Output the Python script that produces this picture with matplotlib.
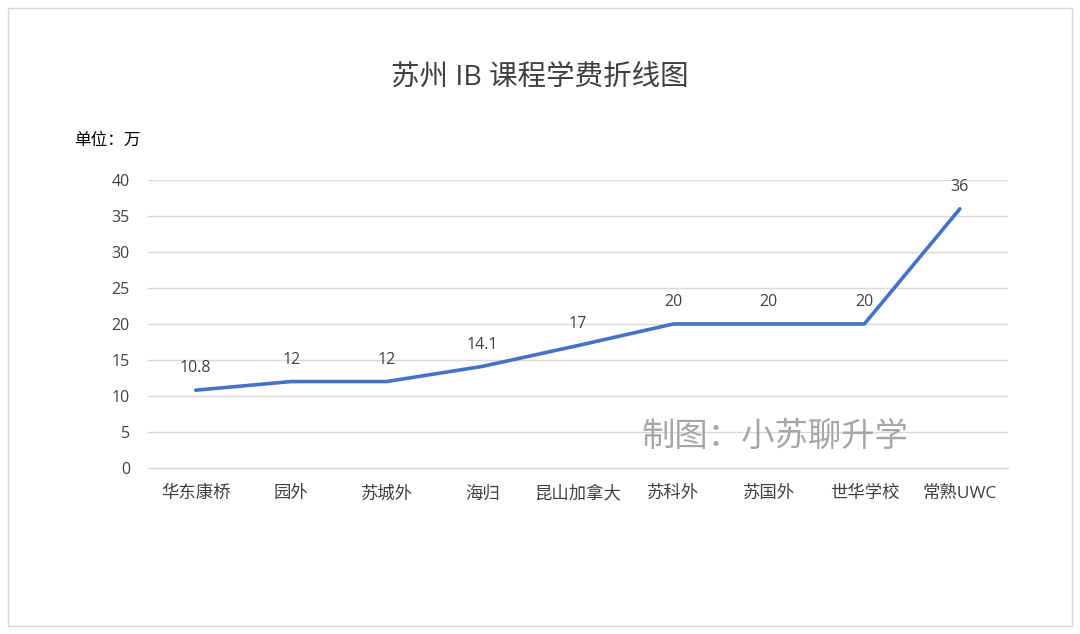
import matplotlib
matplotlib.use("Agg")
import matplotlib.pyplot as plt
from matplotlib.patches import Rectangle

plt.rcParams["font.family"] = ["Open Sans", "Noto Sans CJK SC", "DejaVu Sans"]

# data
schools = ["华东康桥", "园外", "苏城外", "海归", "昆山加拿大", "苏科外", "苏国外", "世华学校", "常熟UWC"]
fees = [10.8, 12, 12, 14.1, 17, 20, 20, 20, 36]
fee_labels = ["10.8", "12", "12", "14.1", "17", "20", "20", "20", "36"]
yticks = [0, 5, 10, 15, 20, 25, 30, 35, 40]

fig = plt.figure(figsize=(10.8, 6.34), dpi=100)
ax = fig.add_axes([0.137, 0.262, 0.796, 0.454])

x = list(range(len(schools)))
ax.plot(x, fees, color="#4472C4", linewidth=2.6, solid_capstyle="round", zorder=3)

for xi, v, lab in zip(x, fees, fee_labels):
    ax.annotate(lab, (xi, v), xytext=(0, 10), textcoords="offset points",
                ha="center", va="bottom", fontsize=11.5, color="#404040")

ax.set_xlim(-0.5, len(schools) - 0.5)
ax.set_ylim(0, 40)
ax.set_yticks(yticks)
ax.set_xticks(x)
ax.set_xticklabels(schools, fontsize=12.5, color="#404040")
ax.tick_params(axis="y", labelsize=11.5, labelcolor="#404040", length=0, pad=13)
ax.tick_params(axis="x", length=0, pad=13)
ax.grid(axis="y", color="#D9D9D9", linewidth=1)
ax.axhline(0, color="#D9D9D9", linewidth=1, clip_on=False, zorder=1)
ax.set_axisbelow(True)
for s in ax.spines.values():
    s.set_visible(False)

fig.text(0.5, 0.878, "苏州 IB 课程学费折线图", ha="center", va="center", fontsize=20.5, color="#404040")
fig.text(0.069, 0.778, "单位：万", ha="left", va="center", fontsize=12, color="#000000")
fig.text(0.718, 0.31, "制图：小苏聊升学", ha="center", va="center", fontsize=24, color="#A6A6A6")

fig.patches.append(Rectangle((0.007, 0.012), 0.986, 0.975, transform=fig.transFigure,
                             fill=False, edgecolor="#D9D9D9", linewidth=1))

fig.savefig("out.png", dpi=100, facecolor="white")
